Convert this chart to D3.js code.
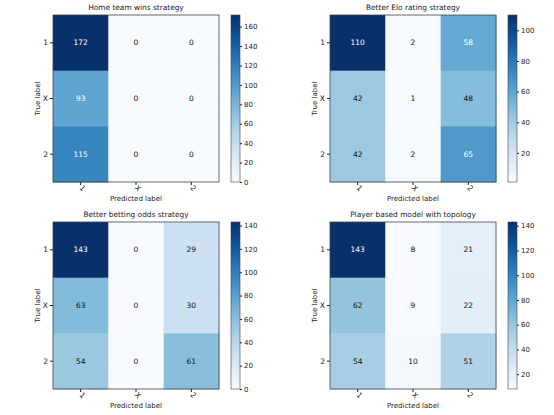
<!DOCTYPE html>
<html>
<head>
<meta charset="utf-8">
<script src="https://cdn.jsdelivr.net/npm/d3@7"></script>
<style>
  body { margin: 0; background: #fff; }
  text { font-family: "DejaVu Sans", sans-serif; fill: #222; }
</style>
</head>
<body>
<svg id="chart" width="554" height="415"></svg>
<script>
// labels of the classes
let classLabels = ['1', 'X', '2'];

// panel titles
let titles = [
    'Home team wins strategy',
    'Better Elo rating strategy',
    'Better betting odds strategy',
    'Player based model with topology'
];

// confusion matrices, rows = true label, cols = predicted label
let homeWins = [[172, 0, 0], [93, 0, 0], [115, 0, 0]];
let eloRating = [[110, 2, 58], [42, 1, 48], [42, 2, 65]];
let bettingOdds = [[143, 0, 29], [63, 0, 30], [54, 0, 61]];
let playerModel = [[143, 8, 21], [62, 9, 22], [54, 10, 51]];

// colorbar ticks
let ticksHome = [0, 20, 40, 60, 80, 100, 120, 140, 160];
let ticksElo = [20, 40, 60, 80, 100];
let ticksOdds = [0, 20, 40, 60, 80, 100, 120, 140];
let ticksPlayer = [20, 40, 60, 80, 100, 120, 140];

let matrices = [homeWins, eloRating, bettingOdds, playerModel];
let cbTicks = [ticksHome, ticksElo, ticksOdds, ticksPlayer];

let svg = d3.select('#chart');

//panel geometry
let plotW = 166, plotH = 167;
let offsets = [[53, 15], [330, 15], [53, 222], [330, 222]];

function drawPanel(i) {
    let m = matrices[i];
    let flat = m.flat();
    let vmin = d3.min(flat), vmax = d3.max(flat);
    let color = d3.scaleSequential(d3.interpolateBlues).domain([vmin, vmax]);

    let g = svg.append('g')
        .attr('transform', 'translate(' + offsets[i][0] + ',' + offsets[i][1] + ')');

    let x = d3.scaleBand().domain(classLabels).range([0, plotW]);
    let y = d3.scaleBand().domain(classLabels).range([0, plotH]);

    let cells = [];
    m.forEach((row, r) => row.forEach((v, c) => cells.push({r: classLabels[r], c: classLabels[c], v: v})));

    g.selectAll('rect.cell')
        .data(cells)
        .join('rect')
        .attr('class', 'cell')
        .attr('x', d => x(d.c))
        .attr('y', d => y(d.r))
        .attr('width', x.bandwidth() + 0.5)
        .attr('height', y.bandwidth() + 0.5)
        .attr('fill', d => color(d.v));

    g.selectAll('text.val')
        .data(cells)
        .join('text')
        .attr('class', 'val')
        .attr('x', d => x(d.c) + x.bandwidth() / 2)
        .attr('y', d => y(d.r) + y.bandwidth() / 2)
        .attr('dy', '0.35em')
        .attr('text-anchor', 'middle')
        .attr('font-size', 7.5)
        .style('fill', d => d.v > vmax / 2 ? '#fff' : '#111')
        .text(d => d.v);

    //frame
    g.append('rect')
        .attr('width', plotW).attr('height', plotH)
        .attr('fill', 'none').attr('stroke', '#444').attr('stroke-width', 0.8);

    //y axis
    let yAxis = g.append('g').call(d3.axisLeft(y).tickSize(3).tickPadding(2));
    yAxis.select('.domain').remove();
    yAxis.selectAll('text').attr('font-size', 7.5).style('fill', '#222');
    yAxis.selectAll('line').attr('stroke', '#222');

    //x axis with rotated labels
    let xAxis = g.append('g')
        .attr('transform', 'translate(0,' + plotH + ')')
        .call(d3.axisBottom(x).tickSize(3).tickPadding(2));
    xAxis.select('.domain').remove();
    xAxis.selectAll('line').attr('stroke', '#222');
    xAxis.selectAll('text')
        .attr('font-size', 7.5)
        .style('fill', '#222')
        .attr('text-anchor', 'middle')
        .attr('dy', '0')
        .attr('y', 0)
        .attr('transform', 'translate(0,8) rotate(45)');

    g.append('text')
        .attr('x', plotW / 2).attr('y', plotH + 19)
        .attr('text-anchor', 'middle').attr('font-size', 7)
        .style('fill', '#222')
        .text('Predicted label');

    g.append('text')
        .attr('transform', 'translate(-13,' + plotH / 2 + ') rotate(-90)')
        .attr('text-anchor', 'middle').attr('font-size', 7)
        .style('fill', '#222')
        .text('True label');

    g.append('text')
        .attr('x', plotW / 2).attr('y', -5)
        .attr('text-anchor', 'middle').attr('font-size', 7.4)
        .style('fill', '#222')
        .text(titles[i]);

    //colorbar
    let cbX = plotW + 12, cbW = 9;
    let cbScale = d3.scaleLinear().domain([vmin, vmax]).range([plotH, 0]);
    let gradId = 'grad' + i;
    let grad = svg.append('defs').append('linearGradient')
        .attr('id', gradId).attr('x1', 0).attr('x2', 0).attr('y1', 1).attr('y2', 0);
    d3.range(0, 1.001, 0.1).forEach(t => {
        grad.append('stop').attr('offset', t).attr('stop-color', color(vmin + t * (vmax - vmin)));
    });
    g.append('rect')
        .attr('x', cbX).attr('y', 0).attr('width', cbW).attr('height', plotH)
        .attr('fill', 'url(#' + gradId + ')')
        .attr('stroke', '#444').attr('stroke-width', 0.6);

    let cbAxis = g.append('g')
        .attr('transform', 'translate(' + (cbX + cbW) + ',0)')
        .call(d3.axisRight(cbScale).tickValues(cbTicks[i]).tickSize(2).tickPadding(2));
    cbAxis.select('.domain').remove();
    cbAxis.selectAll('line').attr('stroke', '#222');
    cbAxis.selectAll('text').attr('font-size', 7).style('fill', '#222');
}

for (let i = 0; i < 4; i++) drawPanel(i);
</script>
</body>
</html>
